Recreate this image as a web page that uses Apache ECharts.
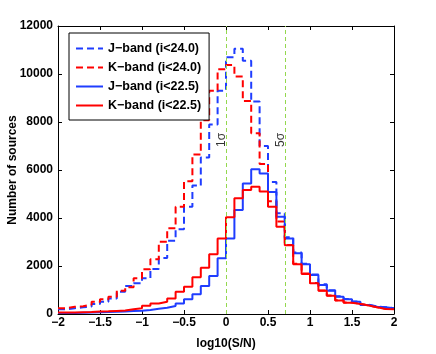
<!DOCTYPE html>
<html lang="en">
<head>
    <meta charset="UTF-8">
    <title>log10(S/N) histogram</title>
    <script src="https://cdn.jsdelivr.net/npm/echarts@6.0.0/dist/echarts.min.js"></script>
    <style>
        html, body { margin: 0; padding: 0; background: #fff; }
        #chart { width: 436px; height: 354px; }
    </style>
</head>
<body>
<div id="chart"></div>
<script>
    // left edge of each 0.1-wide bin, and the right edge of the last one
    const binLeft = [-2.0, -1.9, -1.8, -1.7, -1.6, -1.5, -1.4, -1.3, -1.2, -1.1,
                     -1.0, -0.9, -0.8, -0.7, -0.6, -0.5, -0.4, -0.3, -0.2, -0.1,
                      0.0,  0.1,  0.2,  0.3,  0.4,  0.5,  0.6,  0.7,  0.8,  0.9,
                      1.0,  1.1,  1.2,  1.3,  1.4,  1.5,  1.6,  1.7,  1.8,  1.9];
    const binEnd = 2.0;

    const jFaint = [200, 240, 280, 310, 420, 510, 650, 930, 1170, 1280,
                    1490, 1870, 2330, 3050, 3530, 4470, 5350, 6520, 7900, 9300,
                    10700, 11050, 10550, 8850, 7000, 5500, 4200, 3200, 2560, 2090,
                    1650, 1240, 990, 740, 620, 520, 385, 310, 285, 245];
    const kFaint = [240, 300, 320, 390, 510, 610, 720, 970, 1110, 1490,
                    1860, 2280, 3010, 3570, 4470, 5530, 6650, 8070, 9300, 10200,
                    10375, 9900, 8870, 7530, 6250, 4700, 3850, 2880, 2090, 1690,
                    1290, 980, 770, 570, 480, 425, 355, 285, 215, 205];
    const jBright = [40, 40, 50, 60, 70, 80, 90, 100, 120, 140,
                     170, 220, 260, 330, 440, 610, 820, 1170, 1580, 2320,
                     3150, 4330, 5440, 6030, 5850, 5080, 4050, 3150, 2530, 2070,
                     1625, 1210, 970, 720, 610, 510, 375, 305, 280, 240];
    const kBright = [60, 60, 70, 80, 100, 110, 130, 150, 200, 240,
                     340, 440, 510, 650, 930, 1140, 1530, 1930, 2490, 3150,
                     4030, 4820, 5170, 5300, 5100, 4470, 3640, 2860, 2070, 1670,
                     1280, 970, 760, 560, 470, 420, 350, 280, 210, 200];

    const seriesNames = ['J\u2212band (i<24.0)', 'K\u2212band (i<24.0)', 'J\u2212band (i<22.5)', 'K\u2212band (i<22.5)'];
    const sigmaX = [0, 0.7];
    const sigmaText = ['1\u03c3', '5\u03c3'];

    const blue = '#1f3dff';
    const red = '#ff0000';
    const green = '#94d84e';
    const font = '"Liberation Sans", Arial, sans-serif';

    function steps(vals) {
        const pts = binLeft.map((x, i) => [x, vals[i]]);
        pts.push([binEnd, vals[vals.length - 1]]);
        return pts;
    }

    function minusSign(v) {
        return String(v).replace('-', '\u2212');
    }

    const chart = echarts.init(document.getElementById('chart'));

    const tickIn = { show: true, inside: true, length: 4, lineStyle: { color: '#000' } };
    const lineBlack = { show: true, onZero: false, lineStyle: { color: '#000', width: 1 } };

    const option = {
        animation: false,
        textStyle: { fontFamily: font },
        grid: { left: 58, right: 42, top: 26, bottom: 40, containLabel: false, outerBoundsMode: 'none' },
        legend: {
            data: seriesNames,
            orient: 'vertical',
            left: 69,
            top: 33,
            itemWidth: 27,
            itemHeight: 10,
            itemGap: 6,
            padding: [9, 8, 8, 6],
            backgroundColor: '#fff',
            borderColor: '#000',
            borderWidth: 1,
            itemStyle: { opacity: 0 },
            textStyle: { fontFamily: font, fontWeight: 'bold', fontSize: 12.5, color: '#000' }
        },
        xAxis: [{
            type: 'value',
            min: -2,
            max: 2,
            interval: 0.5,
            name: 'log10(S/N)',
            nameLocation: 'middle',
            nameGap: 24,
            nameMoveOverlap: false,
            nameTextStyle: { fontFamily: font, fontWeight: 'bold', fontSize: 12, color: '#000' },
            axisLine: lineBlack,
            axisTick: tickIn,
            splitLine: { show: false },
            axisLabel: {
                margin: 3,
                fontFamily: font, fontWeight: 'bold', fontSize: 12, color: '#000',
                formatter: minusSign
            }
        }, {
            type: 'value',
            position: 'top',
            min: -2,
            max: 2,
            interval: 0.5,
            axisLine: lineBlack,
            axisTick: tickIn,
            splitLine: { show: false },
            axisLabel: { show: false }
        }],
        yAxis: [{
            type: 'value',
            min: 0,
            max: 12000,
            interval: 2000,
            name: 'Number of sources',
            nameLocation: 'middle',
            nameGap: 39,
            nameMoveOverlap: false,
            nameTextStyle: { fontFamily: font, fontWeight: 'bold', fontSize: 12, color: '#000' },
            axisLine: lineBlack,
            axisTick: tickIn,
            splitLine: { show: false },
            axisLabel: {
                margin: 5, fontFamily: font, fontWeight: 'bold', fontSize: 12, color: '#000',
                formatter: v => String(v)
            }
        }, {
            type: 'value',
            position: 'right',
            min: 0,
            max: 12000,
            interval: 2000,
            axisLine: lineBlack,
            axisTick: tickIn,
            splitLine: { show: false },
            axisLabel: { show: false }
        }],
        series: [{
            name: seriesNames[0],
            type: 'line',
            step: 'end',
            symbol: 'none',
            data: steps(jFaint),
            itemStyle: { color: blue },
            lineStyle: { color: blue, width: 2, type: [7, 4] },
            z: 2
        }, {
            name: seriesNames[1],
            type: 'line',
            step: 'end',
            symbol: 'none',
            data: steps(kFaint),
            itemStyle: { color: red },
            lineStyle: { color: red, width: 2, type: [7, 4] },
            z: 2
        }, {
            name: seriesNames[2],
            type: 'line',
            step: 'end',
            symbol: 'none',
            data: steps(jBright),
            itemStyle: { color: blue },
            lineStyle: { color: blue, width: 2 },
            z: 3
        }, {
            name: seriesNames[3],
            type: 'line',
            step: 'end',
            symbol: 'none',
            data: steps(kBright),
            itemStyle: { color: red },
            lineStyle: { color: red, width: 2 },
            z: 4
        }, {
            name: 'sigma',
            type: 'scatter',
            symbolSize: 0,
            silent: true,
            itemStyle: { color: green },
            data: sigmaX.map((x, i) => ({ value: [x - 0.05, 7250], label: { formatter: sigmaText[i] } })),
            label: {
                show: true,
                position: 'inside',
                rotate: 90,
                fontFamily: font,
                fontSize: 12,
                color: '#000'
            },
            markLine: {
                silent: true,
                symbol: 'none',
                label: { show: false },
                itemStyle: { color: green },
                lineStyle: { color: green, width: 1, type: [4, 3], opacity: 1 },
                emphasis: { disabled: true },
                data: sigmaX.map(x => ({ xAxis: x, lineStyle: { color: green } }))
            },
            z: 1
        }]
    };

    chart.setOption(option);
</script>
</body>
</html>
